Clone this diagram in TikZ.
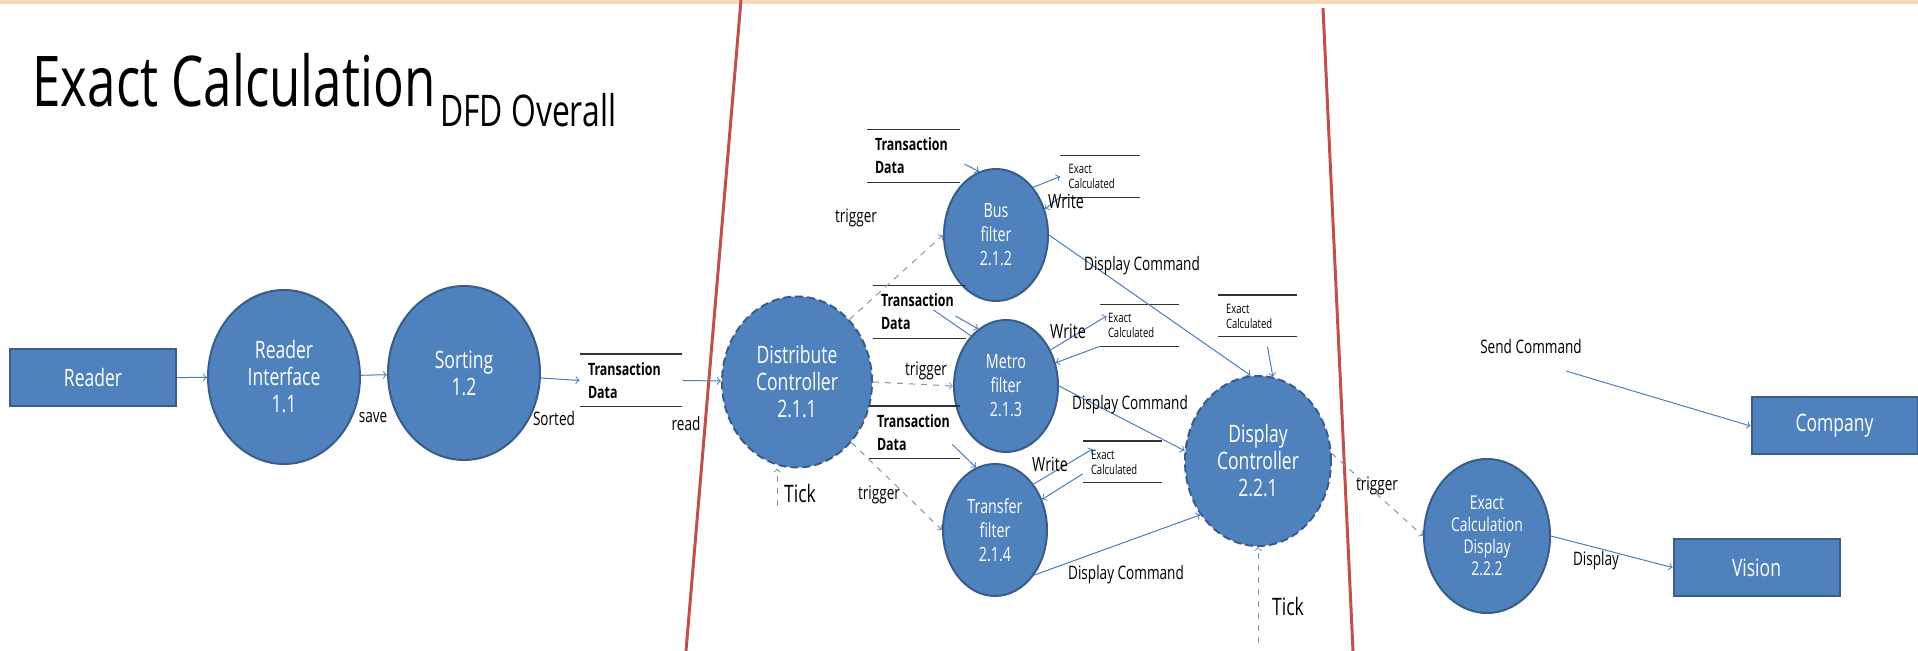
\documentclass[tikz,border=0pt]{standalone}
\usepackage{fontspec}
\setmainfont[FakeStretch=0.73]{Open Sans}
\usetikzlibrary{arrows,shapes.geometric,positioning,calc}
\definecolor{procblue}{HTML}{4F81BD}
\definecolor{procedge}{HTML}{385D8A}
\definecolor{flowblue}{HTML}{4A7EBB}
\definecolor{trigblue}{HTML}{8496B0}
\definecolor{divred}{HTML}{C0504D}
\definecolor{slidepeach}{HTML}{F6DABA}
\tikzstyle{process} = [ellipse,draw=procedge,fill=procblue,line width=1pt,text=white,align=center,inner sep=0pt,font=\fontsize{12}{13.5}\selectfont]
\tikzstyle{control} = [process,dash pattern=on 4pt off 2pt]
\tikzstyle{filter} = [process,minimum width=52pt,minimum height=66pt,font=\fontsize{9.8}{12}\selectfont]
\tikzstyle{entity} = [rectangle,draw=procedge,fill=procblue,line width=1pt,text=white,minimum width=83pt,minimum height=28.5pt,font=\fontsize{12}{13}\selectfont]
\tikzstyle{flow} = [->,draw=flowblue,line width=0.5pt]
\tikzstyle{trig} = [->,draw=trigblue,dashed,line width=0.5pt]
\tikzstyle{lbl} = [inner sep=0pt,font=\fontsize{9.3}{11}\selectfont]
\tikzstyle{divider} = [draw=divred,line width=1.5pt]
\tikzset{
    storeline/.style={draw=black!80,line width=0.6pt,-},
    store/.style={
        text width=#1,inner xsep=4pt,inner ysep=0pt,align=left,
        append after command={
            (\tikzlastnode.north west) edge[storeline] (\tikzlastnode.north east)
            (\tikzlastnode.south west) edge[storeline] (\tikzlastnode.south east)
        }
    },
    txstore/.style={store=#1,minimum height=26pt,font=\bfseries\fontsize{8.5}{11.5}\selectfont},
    exstore/.style={store=#1,minimum height=20.5pt,font=\fontsize{6.5}{7.5}\selectfont}
}

\begin{document}
\begin{tikzpicture}[>=to,x=0.5pt,y=-0.5pt]
\useasboundingbox (0,0) rectangle (1918,651);
\fill[white] (0,0) rectangle (1918,651);
\fill[slidepeach] (0,0) rectangle (1918,4);
%%% Title
\node[anchor=base west,inner sep=0pt,font=\fontsize{35}{40}\selectfont] (title) at (32,107) {Exact Calculation};
\node[anchor=base west,inner sep=0pt,font=\fontsize{21.8}{26}\selectfont] (subtitle) at ([xshift=2pt,yshift=-10pt]title.base east) {DFD Overall};
%%% Dividers
\draw[divider] (741,0) -- (686,651);
\draw[divider] (1323,8) -- (1353,651);

%%% Reading part
\node[entity] (reader) at (93,378) {Reader};
\node[process,minimum width=76pt,minimum height=87pt] (ri) at (284,377) {Reader\\Interface\\1.1};
\node[process,minimum width=76pt,minimum height=87pt] (sort) at (464,373) {Sorting\\1.2};
\node[txstore=43pt] (s0) at (631,380.5) {Transaction\\Data};
\draw[flow] (reader) -- (ri);
\draw[flow] (ri) -- (sort);
\draw[flow] (sort) -- (s0.west);
\node[lbl] (save) at (373,418) {save};
\node[lbl] (sorted) at (554,419) {Sorted};
\node[lbl] (read) at (686,424) {read};

%%% Distribution part
\node[control,minimum width=75pt,minimum height=85.5pt] (dc) at (797,382) {Distribute\\Controller\\2.1.1};
\draw[flow] (s0.east) -- (dc);
\coordinate (tick1) at (777,506);
\draw[trig] (tick1) -- (tick1 |- dc.south);
\node[lbl,font=\fontsize{12}{13}\selectfont] (tickdc) at (800,494) {Tick};
% Draw filters
\foreach \nm/\x/\y/\lab/\idx in {bus/996/235/Bus/2.1.2,metro/1006/386/Metro/2.1.3,transfer/995/530/Transfer/2.1.4} {
    \node[filter] (\nm) at (\x,\y) {\lab\\filter\\\idx};
}
% Draw stores
\node[txstore=38.5pt] (s1) at (913.5,156) {Transaction\\Data};
\node[txstore=38.5pt] (s2) at (919.5,312) {Transaction\\Data};
\node[txstore=37.5pt] (s3) at (914.5,432.5) {Transaction\\Data};
\node[exstore=31.5pt] (e1) at (1100,176.5) {Exact\\Calculated};
\node[exstore=31.5pt] (e2) at (1139.5,325.5) {Exact\\Calculated};
\node[exstore=31.5pt] (e3) at (1122.5,462) {Exact\\Calculated};
\node[exstore=31.5pt] (e4) at (1257.5,316) {Exact\\Calculated};
% Triggers and inputs
\draw[trig] (dc.50) -- (bus.west);
\draw[trig] (dc.east) -- (metro.west);
\draw[trig] (dc.-48) -- (transfer.west);
\node[lbl] (trigbus) at (856,218) {trigger};
\node[lbl] (trigmetro) at (926,371) {trigger};
\node[lbl] (trigtransfer) at (879,495) {trigger};
\draw[flow] ([xshift=2pt,yshift=-4pt]s1.east) -- (bus.105);
\draw[flow,-] ([xshift=7pt,yshift=1pt]s2.center) -- (metro.125);
\draw[flow] ([xshift=18pt,yshift=-2pt]s2.center) -- (metro.116);
\draw[flow] ([xshift=-4pt,yshift=-6pt]s3.east) -- (transfer.107);
% Write
\draw[flow] (bus.52) -- (e1.west);
\draw[flow] (e1.south west) -- (bus.28);
\draw[flow] (metro.39) -- ([xshift=3.5pt,yshift=4.75pt]e2.west);
\draw[flow] (e2.south west) -- (metro.25);
\draw[flow] (transfer.50) -- ([xshift=5pt,yshift=6.5pt]e3.west);
\draw[flow] ([yshift=-6pt]e3.west) -- (transfer.33);
\node[lbl,font=\fontsize{9.8}{11}\selectfont] (wbus) at (1066,201) {Write};
\node[lbl,font=\fontsize{9.8}{11}\selectfont] (wmetro) at (1068,331) {Write};
\node[lbl,font=\fontsize{9.8}{11}\selectfont] (wtransfer) at (1050,464) {Write};

%%% Display part
\node[control,minimum width=73pt,minimum height=85pt] (dispc) at (1258,461) {Display\\Controller\\2.2.1};
\draw[flow] (bus.east) -- (dispc.95);
\draw[flow] (metro.east) -- (dispc.172);
\draw[flow] (transfer.-49) -- (dispc.223);
\draw[flow] ([xshift=5pt,yshift=-5pt]e4.south) -- (dispc.80);
\node[lbl] (cmdbus) at (1142,266) {Display Command};
\node[lbl] (cmdmetro) at (1130,405) {Display Command};
\node[lbl] (cmdtransfer) at (1126,575) {Display Command};
\coordinate (tick2) at (1258,643);
\draw[trig] (tick2) -- (dispc.south);
\node[lbl,font=\fontsize{12}{13}\selectfont] (tickdisp) at (1288,607) {Tick};

\node[process,minimum width=63pt,minimum height=77pt,font=\fontsize{9.5}{11}\selectfont] (ecd) at (1487,536) {Exact\\Calculation\\Display\\2.2.2};
\draw[trig] (dispc.6) -- (ecd.west);
\node[lbl] (trigecd) at (1377,486) {trigger};
\node[entity] (vision) at (1756.5,567.5) {Vision};
\node[entity] (company) at (1834.5,426) {Company};
\draw[flow] (ecd.east) -- (vision.west);
\node[lbl] (display) at (1596,561) {Display};
\coordinate (send) at (1566,371);
\draw[flow] (send) -- (company.west);
\node[lbl] (sendcmd) at (1531,347) {Send Command};
\end{tikzpicture}
\end{document}
